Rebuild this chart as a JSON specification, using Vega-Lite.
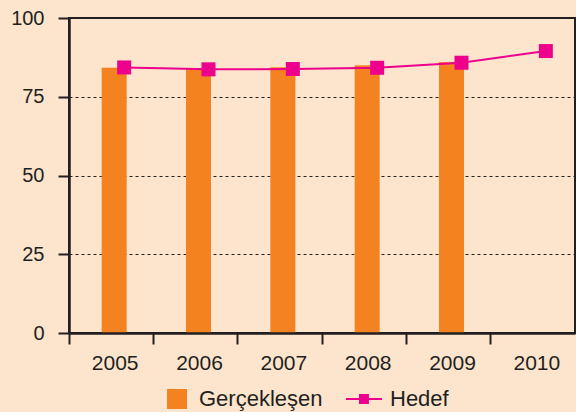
{
  "$schema": "https://vega.github.io/schema/vega-lite/v6.json",
  "width": 506,
  "height": 315,
  "autosize": {"type": "none"},
  "padding": {"left": 69, "top": 18, "right": 1, "bottom": 79},
  "background": "#FDE5CD",
  "config": {
    "font": "Liberation Sans",
    "view": {"stroke": "#231F20", "strokeWidth": 2},
    "axis": {"labelColor": "#231F20", "domainColor": "#231F20", "tickColor": "#231F20"}
  },
  "data": {
    "values": [
      {"yil": "2005", "gerceklesen": 84.2, "hedef": 84.3},
      {"yil": "2006", "gerceklesen": 84.0, "hedef": 83.7},
      {"yil": "2007", "gerceklesen": 84.4, "hedef": 83.8},
      {"yil": "2008", "gerceklesen": 85.0, "hedef": 84.2},
      {"yil": "2009", "gerceklesen": 86.0, "hedef": 85.8},
      {"yil": "2010", "gerceklesen": null, "hedef": 89.5}
    ]
  },
  "encoding": {
    "x": {
      "field": "yil",
      "type": "nominal",
      "scale": {"paddingInner": 0, "paddingOuter": 0},
      "axis": {
        "title": null,
        "labelAngle": 0,
        "bandPosition": 0,
        "labelOffset": 4,
        "labelFontSize": 21,
        "labelPadding": 8,
        "tickSize": 11,
        "tickWidth": 2,
        "domainWidth": 2.5,
        "zindex": 1
      }
    }
  },
  "layer": [
    {
      "mark": {"type": "bar", "width": 25, "xOffset": 3},
      "encoding": {
        "y": {
          "field": "gerceklesen",
          "type": "quantitative",
          "scale": {"domain": [0, 100], "nice": false},
          "axis": {
            "title": null,
            "values": [0, 25, 50, 75, 100],
            "labelFontSize": 20,
            "labelPadding": 14,
            "tickSize": 11,
            "tickWidth": 2,
            "domainWidth": 2.5,
            "grid": true,
            "gridDash": [3, 3],
            "gridColor": "#231F20",
            "gridWidth": 1,
            "gridOpacity": 1
          }
        },
        "color": {
          "datum": "Gerçekleşen",
          "type": "nominal",
          "scale": {"domain": ["Gerçekleşen", "Hedef"], "range": ["#F58220", "#EC008C"]},
          "legend": {
            "title": null,
            "orient": "none",
            "direction": "horizontal",
            "legendX": 98,
            "legendY": 370,
            "padding": 0,
            "symbolSize": 1296,
            "labelFontSize": 22,
            "labelColor": "#231F20",
            "labelOffset": 10,
            "columnPadding": 18,
            "encode": {
              "symbols": {
                "update": {
                  "shape": {"signal": "datum.value === 'Hedef' ? 'M-1.28,0H0.72M-0.5,-0.22H-0.06V0.22H-0.5Z' : 'M-0.611,-0.556H0.5V0.556H-0.611Z'"},
                  "fill": {"signal": "datum.value === 'Hedef' ? '#EC008C' : '#F58220'"},
                  "stroke": {"signal": "datum.value === 'Hedef' ? '#EC008C' : '#F58220'"},
                  "strokeWidth": {"signal": "datum.value === 'Hedef' ? 2 : 0"},
                  "opacity": {"value": 1},
                  "fillOpacity": {"value": 1}
                }
              }
            }
          }
        }
      }
    },
    {
      "mark": {"type": "line", "xOffset": 13, "strokeWidth": 2},
      "encoding": {
        "y": {"field": "hedef", "type": "quantitative"},
        "color": {"datum": "Hedef", "type": "nominal"}
      }
    },
    {
      "mark": {"type": "point", "shape": "square", "filled": true, "size": 196, "opacity": 1, "xOffset": 13},
      "encoding": {
        "y": {"field": "hedef", "type": "quantitative"},
        "color": {"datum": "Hedef", "type": "nominal"}
      }
    }
  ]
}
